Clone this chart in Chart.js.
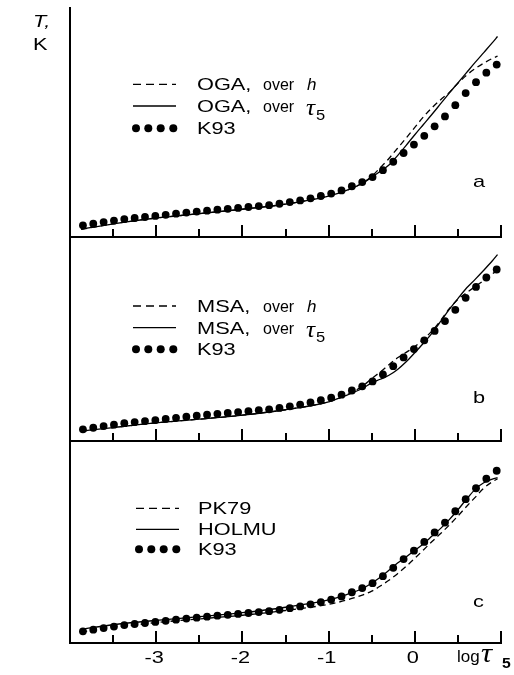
<!DOCTYPE html>
<html>
<head>
<meta charset="utf-8">
<script src="https://cdn.jsdelivr.net/npm/chart.js@4.4.0/dist/chart.umd.min.js"></script>
<style>
  html, body { margin: 0; padding: 0; background: #fff; }
  #wrap { position: relative; width: 514px; height: 675px; overflow: hidden; background: #fff; }
  canvas { position: absolute; left: 0; }
</style>
</head>
<body>
<div id="wrap">
  <canvas id="panelA" width="514" height="241" style="top:0px"></canvas>
  <canvas id="panelB" width="514" height="210" style="top:235px"></canvas>
  <canvas id="panelC" width="514" height="236" style="top:439px"></canvas>
</div>
<script>
// ---- DATA (log tau5 vs T, K) ----
const k93Tau = [-3.85, -3.73, -3.61, -3.49, -3.37, -3.25, -3.13, -3.01, -2.89, -2.77,
  -2.65, -2.53, -2.41, -2.29, -2.17, -2.05, -1.93, -1.81, -1.69, -1.57,
  -1.45, -1.33, -1.21, -1.09, -0.97, -0.85, -0.73, -0.61, -0.49, -0.37,
  -0.25, -0.13, -0.01, 0.11, 0.23, 0.35, 0.47, 0.59, 0.71, 0.83, 0.95];
const k93T = [4321, 4365, 4410, 4450, 4490, 4520, 4548, 4577, 4608, 4638,
  4668, 4695, 4722, 4748, 4772, 4797, 4822, 4848, 4872, 4910,
  4955, 5002, 5060, 5122, 5190, 5275, 5390, 5504, 5640, 5830,
  6060, 6300, 6530, 6770, 7030, 7300, 7610, 7940, 8240, 8500, 8720];

const lineTau = [-3.87, -3.5, -3, -2.5, -2, -1.5, -1, -0.8, -0.6, -0.5, -0.4, -0.3, -0.2,
  -0.1, 0, 0.1, 0.2, 0.3, 0.4, 0.5, 0.6, 0.7, 0.8, 0.9, 0.96];
const ogaOverH = [4210, 4360, 4520, 4640, 4760, 4900, 5120, 5270, 5490, 5660, 5900, 6150, 6430,
  6710, 7000, 7290, 7540, 7760, 7960, 8210, 8430, 8610, 8760, 8890, 8950];
const ogaOverTau = [4210, 4360, 4520, 4640, 4760, 4900, 5120, 5270, 5480, 5640, 5800, 5970, 6230,
  6510, 6800, 7080, 7360, 7650, 7940, 8220, 8500, 8780, 9050, 9320, 9490];
const msaOverH = [4270, 4370, 4500, 4600, 4710, 4860, 5080, 5260, 5520, 5720, 5900, 6100, 6290,
  6440, 6600, 6800, 7030, 7320, 7640, 7900, 8080, 8250, 8420, 8600, 8690];
const msaOverTau = [4270, 4370, 4500, 4600, 4710, 4860, 5080, 5250, 5460, 5600, 5700, 5810, 5970,
  6180, 6430, 6690, 6970, 7290, 7620, 7920, 8210, 8450, 8700, 8960, 9130];
const pk79 = [4300, 4420, 4560, 4660, 4760, 4890, 5060, 5170, 5320, 5420, 5560, 5720, 5900,
  6100, 6320, 6550, 6780, 7000, 7230, 7480, 7740, 7990, 8240, 8420, 8500];
const holmu = [4380, 4500, 4620, 4720, 4830, 4980, 5180, 5320, 5500, 5640, 5800, 5990, 6190,
  6360, 6540, 6720, 6930, 7140, 7380, 7650, 7940, 8210, 8390, 8490, 8530];

const xLabelled = [-3, -2, -1, 0];
const yLabelled = [6000, 8000];
const legendA = [
  { name: 'OGA,', note: 'over', sym: 'h', kind: 'dash' },
  { name: 'OGA,', note: 'over', sym: 'τ', sub: '5', kind: 'solid' },
  { name: 'K93', kind: 'dots' },
];
const legendB = [
  { name: 'MSA,', note: 'over', sym: 'h', kind: 'dash' },
  { name: 'MSA,', note: 'over', sym: 'τ', sub: '5', kind: 'solid' },
  { name: 'K93', kind: 'dots' },
];
const legendC = [
  { name: 'PK79', kind: 'dash' },
  { name: 'HOLMU', kind: 'solid' },
  { name: 'K93', kind: 'dots' },
];

// ---- STYLE ----
const FONT = '"Liberation Sans", Arial, sans-serif';
const SERIF = '"Liberation Serif", serif';
const SX = 1.28; // the original lettering is wide
const DASH = [6, 4];

function drawText(ctx, s, x, y, size, o = {}) {
  ctx.save();
  ctx.font = `${o.style || ''} ${size}px ${o.family || FONT}`;
  ctx.fillStyle = '#000';
  ctx.textAlign = o.align || 'left';
  ctx.textBaseline = 'alphabetic';
  ctx.translate(x, y);
  ctx.scale(o.sx ?? SX, 1);
  ctx.fillText(s, 0, 0);
  ctx.restore();
}

function drawLegend(ctx, rows, x0, ys, tx) {
  ctx.save();
  ctx.strokeStyle = '#000';
  ctx.fillStyle = '#000';
  rows.forEach((r, i) => {
    const y = ys[i];
    if (r.kind === 'dots') {
      [3, 15.3, 27.7, 40.3].forEach(dx => {
        ctx.beginPath();
        ctx.arc(x0 + dx, y, 4, 0, Math.PI * 2);
        ctx.fill();
      });
    } else {
      ctx.lineWidth = 1.3;
      ctx.setLineDash(r.kind === 'dash' ? [8, 5] : []);
      ctx.beginPath();
      ctx.moveTo(x0, y);
      ctx.lineTo(x0 + 43, y);
      ctx.stroke();
      ctx.setLineDash([]);
    }
    drawText(ctx, r.name, tx, y + 6, 17);
    if (r.note) {
      drawText(ctx, r.note, tx + 66, y + 6, 16, { sx: 1.0 });
      if (r.sub) {
        drawText(ctx, r.sym, tx + 109, y + 9, 23, { style: 'italic', family: SERIF, sx: 1.1 });
        drawText(ctx, r.sub, tx + 119, y + 14, 15, { sx: 1.1 });
      } else {
        drawText(ctx, r.sym, tx + 110, y + 6, 17, { style: 'italic', sx: 1.0 });
      }
    }
  });
  ctx.restore();
}

// inward ticks, labels, legend, panel letter
const panelDecor = {
  id: 'panelDecor',
  afterDraw(chart, args, opts) {
    const { ctx, chartArea } = chart;
    const xs = chart.scales.x;
    const ys = chart.scales.y;
    ctx.save();
    ctx.strokeStyle = '#000';
    ctx.lineWidth = 2;
    xs.ticks.forEach(t => {
      const v = t.value;
      if (v <= xs.min || Math.abs(v * 2 - Math.round(v * 2)) > 1e-6) return;
      const px = Math.round(xs.getPixelForValue(v));
      const len = Number.isInteger(v) ? 12 : 8;
      ctx.beginPath();
      ctx.moveTo(px, chartArea.bottom);
      ctx.lineTo(px, chartArea.bottom - len);
      ctx.stroke();
    });
    ys.ticks.forEach(t => {
      const v = t.value;
      if (v <= ys.min || v % 1000 !== 0) return;
      const py = Math.round(ys.getPixelForValue(v));
      ctx.beginPath();
      ctx.moveTo(chartArea.left, py);
      ctx.lineTo(chartArea.left + 8, py);
      ctx.stroke();
      if (yLabelled.includes(v)) drawText(ctx, String(v), 58, py + 6, 17, { align: 'right' });
    });
    ctx.restore();

    drawLegend(ctx, opts.legend, opts.legendX, opts.legendY, opts.textX);
    drawText(ctx, opts.letter, 473, opts.letterY, 17);

    if (opts.yTitle) {
      drawText(ctx, 'T,', 33, 27, 17, { style: 'italic' });
      drawText(ctx, 'K', 33, 50, 17);
    }
    if (opts.xLabels) {
      xLabelled.forEach(v => {
        drawText(ctx, String(v), xs.getPixelForValue(v) - 2, opts.xLabelY, 17, { align: 'center' });
      });
      drawText(ctx, 'log', 457, opts.xLabelY - 1, 17, { sx: 1.0 });
      drawText(ctx, 'τ', 481, opts.xLabelY - 1, 27, { style: 'italic', family: SERIF, sx: 1.15 });
      drawText(ctx, '5', 502, opts.xLabelY + 5, 15, { style: 'bold', sx: 1.05 });
    }
  },
};

const pts = (xs, ys) => xs.map((x, i) => ({ x, y: ys[i] }));

function lineSet(values, dashed) {
  return {
    data: pts(lineTau, values),
    borderColor: '#000',
    borderWidth: 1.3,
    borderDash: dashed ? DASH : [],
    pointRadius: 0,
    cubicInterpolationMode: 'monotone',
    fill: false,
  };
}

function dotSet() {
  return {
    data: pts(k93Tau, k93T),
    showLine: false,
    pointRadius: 3.9,
    pointBackgroundColor: '#000',
    pointBorderWidth: 0,
  };
}

function makePanel(id, yMax, pad, dashVals, solidVals, decor) {
  return new Chart(document.getElementById(id), {
    type: 'line',
    data: {
      datasets: [lineSet(dashVals, true), lineSet(solidVals, false), dotSet()],
    },
    options: {
      responsive: false,
      animation: false,
      layout: { padding: { left: 70, right: 13, top: pad[0], bottom: pad[1] } },
      plugins: { legend: { display: false }, tooltip: { enabled: false }, panelDecor: decor },
      scales: {
        x: {
          type: 'linear', min: -4, max: 1,
          ticks: { display: false, stepSize: 0.5 },
          grid: { display: false, drawTicks: false },
          border: { display: true, color: '#000', width: 2 },
        },
        y: {
          type: 'linear', min: 4000, max: yMax,
          ticks: { display: false, stepSize: 1000 },
          grid: { display: false, drawTicks: false },
          border: { display: true, color: '#000', width: 2 },
        },
      },
    },
    plugins: [panelDecor],
  });
}

makePanel('panelA', 10270, [8, 3], ogaOverH, ogaOverTau, {
  legend: legendA, legendX: 133, legendY: [84.3, 106, 128.3], textX: 197,
  letter: 'a', letterY: 187, yTitle: true,
});
makePanel('panelB', 9560, [3, 3], msaOverH, msaOverTau, {
  legend: legendB, legendX: 133, legendY: [71, 92.7, 114.3], textX: 197,
  letter: 'b', letterY: 167.7,
});
makePanel('panelC', 9480, [3, 32], pk79, holmu, {
  legend: legendC, legendX: 136, legendY: [69.3, 90.3, 110.3], textX: 198,
  letter: 'c', letterY: 167.7, xLabels: true, xLabelY: 224,
});
</script>
</body>
</html>
